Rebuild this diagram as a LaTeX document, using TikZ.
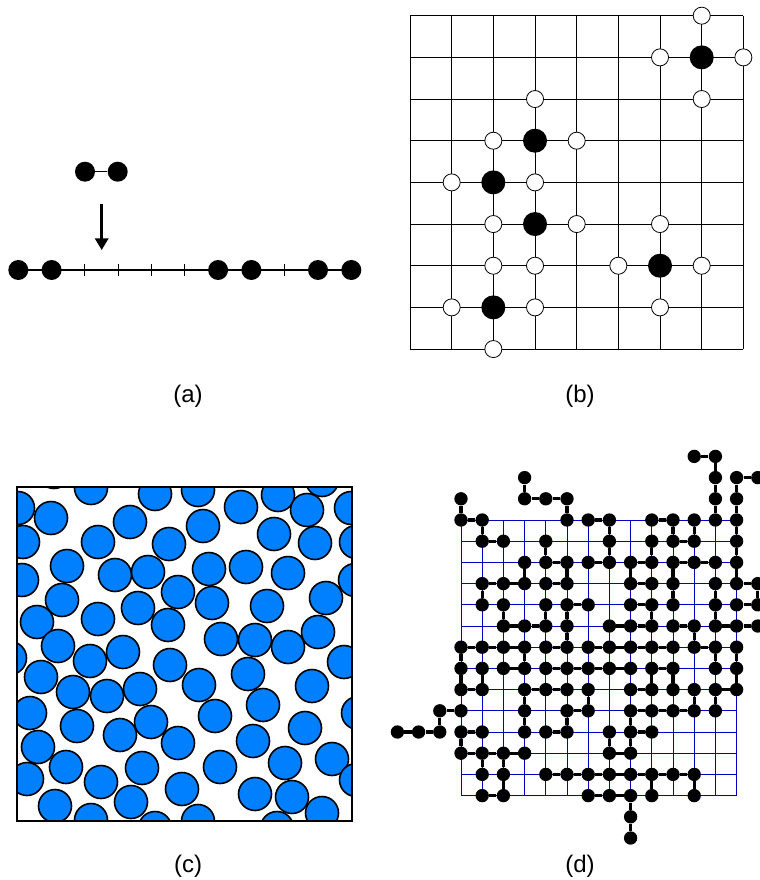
\documentclass[tikz,border=0pt]{standalone}
\usepackage{fontspec}
\setmainfont{Liberation Sans}
\usepackage{tikz}
\usetikzlibrary{arrows.meta}
\definecolor{DiskBlue}{HTML}{0080FF}
\definecolor{LatBlue}{HTML}{0000C0}

\begin{document}
\begin{tikzpicture}[
  x=0.75pt, y=-0.75pt,
  font=\fontsize{18}{21}\selectfont,
  dot/.style={circle, fill=black, inner sep=0pt, minimum size=15pt},
  occ/.style={circle, fill=black, inner sep=0pt, minimum size=18pt},
  vac/.style={circle, draw, fill=white, line width=0.6pt, inner sep=0pt, minimum size=12.8pt},
  site/.style={circle, fill=black, inner sep=0pt, minimum size=10pt},
  bond/.style={line width=2.5pt},
  thin/.style={line width=0.8pt},
  disk/.style={draw, fill=DiskBlue, line width=1.2pt},
  lat/.style={draw=LatBlue, line width=0.6pt},
  drop/.style={-{Triangle[length=8.8pt,width=10pt]}, line width=2pt},
  every node/.style={anchor=center}
]
\useasboundingbox (0,0) rectangle (759,880);

% (a) dimer falling onto the line
\foreach \k in {0,...,10}
  \coordinate (a\k) at ({18.3+33.3*\k},270);
\draw[thin] (a0) -- (a10);
\foreach \k in {2,3,4,5,8}
  \draw[thin] (a\k) ++(0,-6) -- ++(0,12);
\foreach \k in {0,1,6,7,9,10}
  \node[dot] (p\k) at (a\k) {};
\node[dot] (m1) at (85,171.7) {};
\node[dot] (m2) at (117.7,171.7) {};
\draw[thin] (m1) -- (m2);
\coordinate (drop0) at (101.7,204);
\coordinate (drop1) at (101.7,250);
\draw[drop] (drop0) -- (drop1);
\node (la) at (188,396) {(a)};

% (b) square lattice, filled sites and their free neighbours
\foreach \k in {0,...,8} {
  \draw[line width=0.6pt] ({410+41.67*\k},15.7) -- ({410+41.67*\k},349.3);
  \draw[line width=0.6pt] (410,{15.7+41.67*\k}) -- (743.3,{15.7+41.67*\k});
}
\foreach \c/\r in {7/0,6/1,8/1,3/2,7/2,2/3,4/3,1/4,3/4,2/5,4/5,6/5,2/6,3/6,5/6,7/6,1/7,3/7,6/7,2/8}
  \node[vac] (v\c-\r) at ({410+41.67*\c},{15.7+41.67*\r}) {};
\foreach \c/\r in {7/1,3/3,2/4,3/5,6/6,2/7}
  \node[occ] (b\c-\r) at ({410+41.67*\c},{15.7+41.67*\r}) {};
\node (lb) at (580,396) {(b)};

% (c) random disks in a box
\begin{scope}
\clip (17,487) rectangle (352,821);
\foreach \x/\y in {54/472,91/488,18/508,51/518,155/494,198/490,241/507,278/495,322/480,307/510,351/508,
  23/542,98/542,130/522,203/526,169/544,274/534,315/543,356/542,
  67/566,22/580,115/575,148/572,209/569,246/567,288/573,355/580,
  62/600,178/592,138/608,212/603,267/606,326/598,
  37/622,98/619,168/625,
  58/646,90/661,123/652,221/639,255/640,288/647,318/632,344/662,170/665,10/658,
  41/677,73/692,107/696,140/689,199/685,248/674,312/686,
  30/713,77/726,120/735,151/722,215/716,263/705,358/713,
  38/747,178/743,253/741,305/728,
  27/779,66/767,101/782,142/768,220/767,285/763,332/759,356/780,
  55/806,91/820,131/802,182/789,155/828,198/821,255/794,292/797,322/813,277/828}
  \draw[disk] (\x,\y) circle (16.5);
\end{scope}
\draw[line width=1.5pt] (17,487) rectangle (352,821);
\node (lc) at (188,866) {(c)};

% (d) cluster on the lattice
\foreach \k in {0,...,13} {
  \draw[lat] ({461+21.2*\k},520) -- ({461+21.2*\k},795.6);
  \draw[lat] (461,{520+21.2*\k}) -- (736.6,{520+21.2*\k});
}
\foreach \j/\row in {-3/{11,12}, -2/{3,12,13,14}, -1/{0,3,4,5,12,13},
  0/{0,1,5,6,7,9,10,11,12,13}, 1/{1,2,4,7,9,10,11,13},
  2/{3,4,5,6,7,8,9,10,11,12,13}, 3/{1,2,3,4,5,8,9,10,12,13,14},
  4/{1,2,4,5,6,8,9,10,12,13,14}, 5/{2,3,4,5,7,8,9,10,11,12,13,14},
  6/{0,1,2,3,4,5,6,7,8,9,10,11,12,13}, 7/{0,1,2,3,4,5,6,7,8,9,10,12,13},
  8/{0,1,3,4,5,6,8,9,10,11,12,13}, 9/{-1,0,3,5,6,8,9,10,11,12},
  10/{-3,-2,-1,0,1,3,4,5,7,8,9}, 11/{0,1,2,3,7,8},
  12/{1,2,4,5,6,7,8,9,10,11}, 13/{1,2,6,7,8,9,11}, 14/{8}, 15/{8}}
  \foreach \i in \row {
    \pgfmathtruncatemacro\ii{\i+3}
    \pgfmathtruncatemacro\jj{\j+3}
    \node[site] (d\ii-\jj) at ({461+21.2*\i},{520+21.2*\j}) {};
  }
% horizontal bonds: i -> i+1
\foreach \j/\row in {-3/{11}, -2/{13}, -1/{3,4}, 0/{0,6,9}, 1/{1,10},
  2/{4,6,8,10,11}, 3/{1,2,4,8,13}, 4/{5,8,13}, 5/{2,3,7,8,10,12,13},
  6/{0,1,2,4,6,7,8,9,11}, 7/{2,4,5,6,7,9}, 8/{0,3,4,8,12},
  9/{-1,5,8,9,10}, 10/{-3,-2,0,4,8}, 11/{0,1,2,7},
  12/{4,5,6,7,8,9,10}, 13/{1,6,7}}
  \foreach \i in \row {
    \pgfmathtruncatemacro\ia{\i+3}
    \pgfmathtruncatemacro\ib{\i+4}
    \pgfmathtruncatemacro\jj{\j+3}
    \draw[bond] (d\ia-\jj) -- (d\ib-\jj);
  }
% vertical bonds: j -> j+1
\foreach \i/\col in {-1/{9}, 0/{-1,6,7,10}, 1/{0,3,7,11}, 2/{4,11,12},
  3/{-2,2,6,8,9}, 4/{1,4}, 5/{-1,2,4,5,9}, 6/{8}, 7/{0,1,10},
  8/{2,9,10,13,14}, 9/{1,4,7,12}, 10/{0,2,3,7}, 11/{0,5,8,12},
  12/{-3,-2,-1,3,4,6,8}, 13/{-2,-1,0,1,2,6,7}, 14/{3}}
  \foreach \j in \col {
    \pgfmathtruncatemacro\ii{\i+3}
    \pgfmathtruncatemacro\ja{\j+3}
    \pgfmathtruncatemacro\jb{\j+4}
    \draw[bond] (d\ii-\ja) -- (d\ii-\jb);
  }
\node (ld) at (580,866) {(d)};
\end{tikzpicture}
\end{document}
